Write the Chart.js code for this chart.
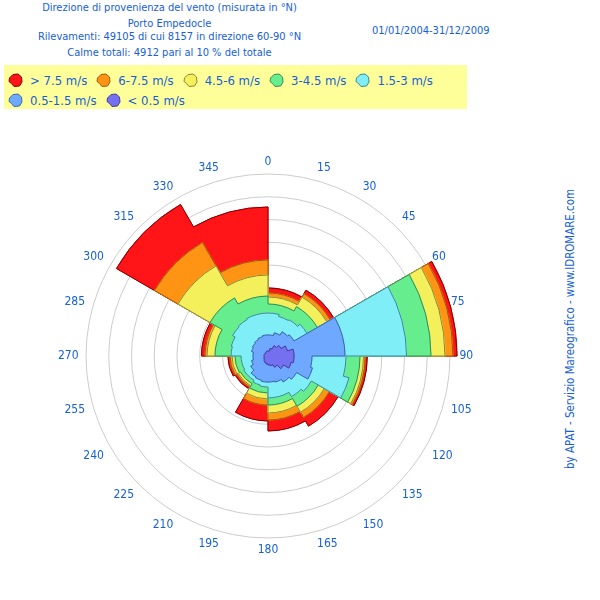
<!DOCTYPE html>
<html>
<head>
<meta charset="utf-8">
<script src="https://cdn.jsdelivr.net/npm/chart.js@4.4.1/dist/chart.umd.min.js"></script>
<style>
  body {
    margin: 0;
    width: 600px;
    height: 600px;
    position: relative;
    overflow: hidden;
    background: #fff;
    font-family: 'DejaVu Sans Condensed', 'Liberation Sans', sans-serif;
    color: #1560d8;
  }
  .txt { position: absolute; white-space: nowrap; font-size: 11px; line-height: 14px; }
  .title { left: 169.5px; transform: translateX(-50%); }
  #legend {
    position: absolute;
    left: 4px;
    top: 65px;
    width: 459px;
    height: 39px;
    padding: 5px 0 0 4px;
    background: #ffff99;
    display: flex;
    flex-wrap: wrap;
    align-content: flex-start;
    font-size: 13px;
  }
  #legend .item { display: flex; align-items: center; height: 20px; margin-right: 9px; }
  #legend svg { margin-right: 7px; }
  #side {
    position: absolute;
    left: 420px;
    top: 322px;
    width: 300px;
    text-align: center;
    font-size: 11.4px;
    transform: rotate(-90deg);
  }
  #rose { position: absolute; }
</style>
</head>
<body>
<div class="txt title" style="top:1px">Direzione di provenienza del vento (misurata in °N)</div>
<div class="txt title" style="top:17px">Porto Empedocle</div>
<div class="txt title" style="top:30px">Rilevamenti: 49105 di cui 8157 in direzione 60-90 °N</div>
<div class="txt title" style="top:46px">Calme totali: 4912 pari al 10 % del totale</div>
<div class="txt" style="left:372px; top:24px">01/01/2004-31/12/2009</div>
<div class="txt" id="side">by APAT - Servizio Mareografico - www.IDROMARE.com</div>
<div id="legend"></div>
<canvas id="rose" width="420" height="420"></canvas>
<script>
// direction labels, one every 15 degrees (sector boundaries)
const directionLabels = ['0', '15', '30', '45', '60', '75', '90', '105', '120', '135', '150', '165',
  '180', '195', '210', '225', '240', '255', '270', '285', '300', '315', '330', '345'];

// cumulative frequency (%) per direction, read off the rose
// 30 degree sectors: 0-30, 30-60, ... 330-360
const pctTotal = [5.98, 6.68, 16.62, 8.73, 7.12, 6.59, 5.71, 3.34, 3.52, 5.85, 15.38, 13.10];
const pctBelow75 = [5.54, 6.33, 16.26, 8.55, 6.24, 5.63, 4.31, 3.16, 3.34, 5.54, 11.52, 8.44];
const pctBelow6 = [5.19, 5.98, 15.56, 8.40, 5.71, 5.01, 3.78, 3.03, 3.16, 5.36, 9.14, 7.12];
const pctBelow45 = [4.57, 5.01, 14.33, 8.09, 5.10, 4.31, 3.25, 2.81, 2.90, 4.66, 5.89, 5.27];
// 15 degree sectors: 0-15, 15-30, ... 345-360
const pctBelow3 = [3.78, 3.60, 3.69, 3.96, 12.18, 12.18, 6.86, 7.38, 4.40, 4.13, 3.69, 3.69,
  2.73, 2.64, 2.46, 2.46, 2.37, 2.37, 3.25, 3.34, 3.60, 3.69, 3.78, 3.78];
const pctBelow15 = [1.85, 2.11, 2.46, 2.64, 6.77, 6.77, 3.87, 4.04, 2.90, 2.64, 2.37, 2.29,
  2.29, 2.20, 2.11, 1.76, 1.49, 1.32, 1.32, 1.49, 1.58, 1.67, 1.76, 1.85];
const pctBelow05 = [0.44, 0.70, 1.05, 1.32, 1.76, 2.29, 2.29, 2.11, 1.58, 1.14, 0.88, 0.79,
  0.70, 0.62, 0.53, 0.44, 0.35, 0.35, 0.35, 0.35, 0.35, 0.35, 0.40, 0.44];

const speedClasses = ['< 0.5 m/s', '0.5-1.5 m/s', '1.5-3 m/s', '3-4.5 m/s', '4.5-6 m/s', '6-7.5 m/s', '> 7.5 m/s'];
const classValues = [pctBelow05, pctBelow15, pctBelow3, pctBelow45, pctBelow6, pctBelow75, pctTotal];
const fillColors = ['#7470f0', '#6ea8ff', '#80eef6', '#66ee8e', '#f4f05c', '#ff9414', '#ff1418'];
const lineColors = ['#40409a', '#3a6aa8', '#3a8a90', '#3a8a52', '#8a8838', '#9a5a10', '#800000'];

const CENTER_X = 268;
const CENTER_Y = 356;
const RING_16_RADIUS = 182;
const FONT = "'DejaVu Sans Condensed', 'Liberation Sans', sans-serif";

// outline each cumulative layer like the original rose (no spokes)
const roseOutline = {
  id: 'roseOutline',
  afterDatasetDraw(chart, args) {
    const ctx = chart.ctx;
    const arcs = args.meta.data;
    if (!arcs.length) return;
    ctx.save();
    ctx.beginPath();
    arcs.forEach(arc => {
      ctx.arc(arc.x, arc.y, arc.outerRadius, arc.startAngle, arc.endAngle);
    });
    ctx.closePath();
    ctx.lineWidth = 1;
    ctx.strokeStyle = chart.data.datasets[args.index].outlineColor;
    ctx.stroke();
    ctx.restore();
  }
};

const datasets = speedClasses.map((label, i) => ({
  label: label,
  data: classValues[i],
  backgroundColor: fillColors[i],
  borderColor: fillColors[i],
  borderWidth: 1,
  outlineColor: lineColors[i]
}));

const canvas = document.getElementById('rose');
const chart = new Chart(canvas, {
  type: 'polarArea',
  data: { labels: directionLabels, datasets: datasets },
  options: {
    responsive: false,
    animation: false,
    events: [],
    plugins: {
      legend: { display: false },
      tooltip: { enabled: false }
    },
    scales: {
      r: {
        min: 0,
        max: 16.6,
        startAngle: 0,
        angleLines: { display: false },
        grid: { circular: true, color: '#cccccc', lineWidth: 1 },
        ticks: { display: false, stepSize: 2, includeBounds: false },
        pointLabels: {
          display: true,
          color: '#1560d8',
          padding: (ctx) => (ctx.index === 6 ? 3 : 1),
          font: { family: FONT, size: 12, lineHeight: 0.8 }
        }
      }
    }
  },
  plugins: [roseOutline]
});

// put the rose centre where the original has it, ring 16 % at its radius
const rScale = chart.scales.r;
chart.options.scales.r.max = 16 * rScale.drawingArea / RING_16_RADIUS;
chart.update('none');
canvas.style.left = Math.round(CENTER_X - rScale.xCenter) + 'px';
canvas.style.top = Math.round(CENTER_Y - rScale.yCenter) + 'px';

// html legend, from the datasets (largest class first)
const BLOB = 'M1.5,5 L5,1.5 L10,1 L13.5,4 L14,9 L11.5,13 L6,13.5 L3.5,10.5 L1,8.5 Z';
const legendEl = document.getElementById('legend');
[...chart.data.datasets].reverse().forEach(ds => {
  const item = document.createElement('span');
  item.className = 'item';
  item.innerHTML = '<svg width="15" height="15" viewBox="0 0 15 15"><path d="' + BLOB +
    '" fill="' + ds.backgroundColor + '" stroke="' + ds.outlineColor + '" stroke-width="1"/></svg>';
  const text = document.createElement('span');
  text.textContent = ds.label;
  item.appendChild(text);
  legendEl.appendChild(item);
});
</script>
</body>
</html>
